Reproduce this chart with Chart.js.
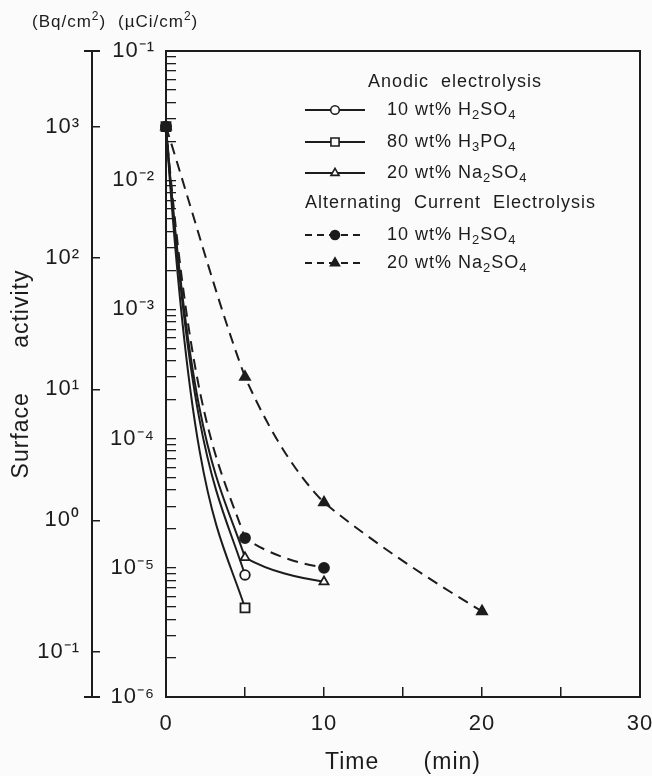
<!DOCTYPE html>
<html>
<head>
<meta charset="utf-8">
<script src="https://cdn.jsdelivr.net/npm/chart.js@4.4.1/dist/chart.umd.min.js"></script>
<style>
  html, body { margin: 0; padding: 0; background: #fbfbfb; }
</style>
</head>
<body>
<canvas id="activityChart" width="652" height="776"></canvas>
<script>
// time after start of electrolysis (min)
var timeShort = [0, 5];
var timeMid = [0, 5, 10];
var timeLong = [0, 5, 10, 20];

// surface activity (uCi/cm2)
var anodicH2SO4 = [2.6e-2, 8.8e-6];
var anodicH3PO4 = [2.6e-2, 4.9e-6];
var anodicNa2SO4 = [2.6e-2, 1.2e-5, 7.8e-6];
var acH2SO4 = [2.6e-2, 1.7e-5, 1.0e-5];
var acNa2SO4 = [2.6e-2, 3.0e-4, 3.2e-5, 4.6e-6];

var groupTitles = ['Anodic  electrolysis', 'Alternating  Current  Electrolysis'];
var seriesLabels = ['10 wt% H_2SO_4', '80 wt% H_3PO_4', '20 wt% Na_2SO_4', '10 wt% H_2SO_4', '20 wt% Na_2SO_4'];

// tick labels
var xTicks = [0, 5, 10, 15, 20, 25, 30];
var xLabels = ['0', '', '10', '', '20', '', '30'];
var uciDecades = [-6, -5, -4, -3, -2, -1];
var bqDecades = [-1, 0, 1, 2, 3];
var bqRange = [0.045, 3800];

var ink = '#1c1c1c';
var paper = '#fbfbfb';
var family = "'Liberation Sans', Arial, sans-serif";
Chart.defaults.font.family = family;
Chart.defaults.color = ink;

var sup = { '-': '\u207B', '0': '\u2070', '1': '\u00B9', '2': '\u00B2', '3': '\u00B3', '4': '\u2074', '5': '\u2075', '6': '\u2076' };
function decadeLabel(v) {
  var e = String(Math.round(Math.log10(v)));
  return '10' + e.split('').map(function (c) { return sup[c]; }).join('');
}
function isDecade(v) {
  var l = Math.log10(v);
  return Math.abs(l - Math.round(l)) < 1e-6;
}

var uciTicks = [];
uciDecades.forEach(function (d) {
  if (d === uciDecades[uciDecades.length - 1]) { uciTicks.push(Math.pow(10, d)); return; }
  for (var m = 1; m <= 9; m++) uciTicks.push(Number((m * Math.pow(10, d)).toPrecision(3)));
});

function pairs(ts, vs) {
  return ts.map(function (t, i) { return { x: t, y: vs[i] }; });
}
function plain(s) { return s.replace(/[_^]/g, ''); }

// draws text where _d is a subscript and ^d a superscript
function richText(ctx, str, x, y, size) {
  var parts = [];
  for (var i = 0; i < str.length; i++) {
    var c = str[i];
    if ((c === '_' || c === '^') && i + 1 < str.length) { parts.push({ t: str[i + 1], k: c }); i++; }
    else parts.push({ t: c, k: '' });
  }
  var small = Math.round(size * 0.7);
  ctx.textAlign = 'left';
  ctx.textBaseline = 'middle';
  ctx.fillStyle = ink;
  var cx = x;
  parts.forEach(function (p) {
    ctx.font = (p.k ? small : size) + 'px ' + family;
    var dy = p.k === '_' ? size * 0.3 : (p.k === '^' ? -size * 0.3 : 0);
    ctx.fillText(p.t, cx, y + dy);
    cx += ctx.measureText(p.t).width;
  });
}

function marker(ctx, style, x, y, r, fill) {
  ctx.beginPath();
  if (style === 'circle') ctx.arc(x, y, r, 0, Math.PI * 2);
  else if (style === 'rect') { var s = r * Math.SQRT1_2; ctx.rect(x - s, y - s, 2 * s, 2 * s); }
  else { ctx.moveTo(x, y - r); ctx.lineTo(x + r * 0.866, y + r * 0.5); ctx.lineTo(x - r * 0.866, y + r * 0.5); ctx.closePath(); }
  ctx.fillStyle = fill;
  ctx.fill();
  ctx.lineWidth = 1.6;
  ctx.strokeStyle = ink;
  ctx.stroke();
}

// hand-drawn look: each segment gets start/end slopes as multiples of its chord
var bendPlugin = {
  id: 'bend',
  beforeDatasetDraw: function (chart, args) {
    var ds = chart.data.datasets[args.index];
    if (!ds.bend) return;
    var meta = args.meta;
    meta.dataset.updateControlPoints(chart.chartArea, 'x');
    var pts = meta.data;
    for (var i = 0; i < pts.length - 1; i++) {
      var a = pts[i], b = pts[i + 1], k = ds.bend[i];
      var h = (b.x - a.x) / 3, rise = (b.y - a.y) / 3;
      a.cp2x = a.x + h; a.cp2y = a.y + k[0] * rise;
      b.cp1x = b.x - h; b.cp1y = b.y - k[1] * rise;
    }
  }
};

var decorPlugin = {
  id: 'decor',
  beforeDraw: function (chart) {
    var ctx = chart.ctx;
    ctx.save();
    ctx.fillStyle = paper;
    ctx.fillRect(0, 0, chart.width, chart.height);
    ctx.restore();
    ctx.letterSpacing = '1px';
  },
  beforeDatasetsDraw: function (chart) {
    var ctx = chart.ctx, ca = chart.chartArea;
    ctx.save();
    ctx.strokeStyle = ink;
    ctx.lineWidth = 2;
    ctx.strokeRect(ca.left, ca.top, ca.right - ca.left, ca.bottom - ca.top);
    ctx.restore();
  },
  afterDraw: function (chart) {
    var ctx = chart.ctx, ca = chart.chartArea;
    var bq = chart.scales.yBq, uci = chart.scales.y;
    ctx.save();
    // end caps of the Bq axis
    ctx.strokeStyle = ink;
    ctx.lineWidth = 2;
    ctx.beginPath();
    ctx.moveTo(bq.right - 8, ca.top); ctx.lineTo(bq.right + 8, ca.top);
    ctx.moveTo(bq.right - 8, ca.bottom); ctx.lineTo(bq.right + 8, ca.bottom);
    ctx.stroke();
    // units above the axes
    richText(ctx, '(Bq/cm^2)', bq.left + 24, 22, 17);
    richText(ctx, '(\u00B5Ci/cm^2)', uci.left + 26, 22, 17);

    // legend with two group headings
    var ds = chart.data.datasets;
    var x0 = ca.left + 139, x1 = ca.left + 199, tx = ca.left + 221;
    richText(ctx, groupTitles[0], ca.left + 202, ca.top + 31, 18);
    richText(ctx, groupTitles[1], x0, ca.top + 152, 18);
    var rows = [59, 91, 122, 184, 212];
    rows.forEach(function (ry, i) {
      var d = ds[i], y = ca.top + ry;
      ctx.save();
      ctx.strokeStyle = ink;
      ctx.lineWidth = 2;
      ctx.setLineDash(d.borderDash ? [7, 5] : []);
      ctx.beginPath(); ctx.moveTo(x0, y); ctx.lineTo(x1, y); ctx.stroke();
      ctx.restore();
      marker(ctx, d.pointStyle, (x0 + x1) / 2, y, d.pointRadius * 0.9, d.pointBackgroundColor);
      richText(ctx, seriesLabels[i], tx, y, 18);
    });
    ctx.restore();
  }
};

function series(i, ts, vs, style, radius, filled, dashed, bend, order) {
  return {
    label: plain(seriesLabels[i]),
    data: pairs(ts, vs),
    order: order,
    borderColor: ink,
    borderWidth: 2,
    borderDash: dashed ? [11, 7] : undefined,
    tension: 0.4,
    bend: bend,
    pointStyle: style,
    pointRadius: radius,
    pointBorderWidth: 1.8,
    pointBorderColor: ink,
    pointBackgroundColor: filled ? ink : paper,
    clip: false
  };
}

new Chart(document.getElementById('activityChart'), {
  type: 'line',
  data: {
    datasets: [
      series(0, timeShort, anodicH2SO4, 'circle', 4.8, false, false, [[2.3, 0.55]], 3),
      series(1, timeShort, anodicH3PO4, 'rect', 6.4, false, false, [[2.4, 0.5]], 4),
      series(2, timeMid, anodicNa2SO4, 'triangle', 5.2, false, false, [[2.3, 0.55], [1.8, 0.5]], 2),
      series(3, timeMid, acH2SO4, 'circle', 5, true, true, [[2.2, 0.55], [1.8, 0.5]], 0),
      series(4, timeLong, acNa2SO4, 'triangle', 5.8, true, true, [[1.0, 0.85], [1.4, 0.64], [1.18, 0.88]], 1)
    ]
  },
  options: {
    responsive: false,
    animation: false,
    events: [],
    layout: { padding: { left: 8, right: 12, top: 51, bottom: 0 } },
    plugins: { legend: { display: false }, tooltip: { enabled: false } },
    scales: {
      x: {
        type: 'linear',
        min: 0,
        max: 30,
        afterBuildTicks: function (s) { s.ticks = xTicks.map(function (v) { return { value: v }; }); },
        afterFit: function (s) { s.height = 79; s.paddingLeft = 0; s.paddingRight = 0; },
        ticks: {
          autoSkip: false,
          maxRotation: 0,
          padding: 24,
          color: ink,
          font: { size: 22 },
          callback: function (v) { return xLabels[xTicks.indexOf(v)]; }
        },
        grid: { drawOnChartArea: false, tickLength: -10, color: ink, lineWidth: 1.5 },
        border: { display: true, color: ink, width: 2 },
        title: { display: true, text: 'Time      (min)', color: ink, font: { size: 23 }, padding: { top: 0, bottom: 0 } }
      },
      y: {
        type: 'logarithmic',
        position: 'left',
        weight: 0,
        min: 1e-6,
        max: 1e-1,
        afterBuildTicks: function (s) { s.ticks = uciTicks.map(function (v) { return { value: v }; }); },
        afterFit: function (s) { s.width = 74; },
        ticks: {
          autoSkip: false,
          padding: 21,
          color: ink,
          font: { size: 22 },
          callback: function (v) { return isDecade(v) ? decadeLabel(v) : ''; }
        },
        grid: { drawOnChartArea: false, tickLength: -10, color: ink, lineWidth: 1.3 },
        border: { display: true, color: ink, width: 2 }
      },
      yBq: {
        type: 'logarithmic',
        position: 'left',
        weight: 1,
        min: bqRange[0],
        max: bqRange[1],
        afterBuildTicks: function (s) { s.ticks = bqDecades.map(function (d) { return { value: Math.pow(10, d) }; }); },
        afterFit: function (s) { s.width = 84; },
        ticks: {
          autoSkip: false,
          padding: 20,
          color: ink,
          font: { size: 22 },
          callback: function (v) { return decadeLabel(v); }
        },
        grid: { drawOnChartArea: false, tickLength: -8, color: ink, lineWidth: 1.5 },
        border: { display: true, color: ink, width: 2 },
        title: { display: true, text: 'Surface      activity', color: ink, font: { size: 23 }, padding: { top: 0 } }
      }
    }
  },
  plugins: [bendPlugin, decorPlugin]
});
</script>
</body>
</html>
